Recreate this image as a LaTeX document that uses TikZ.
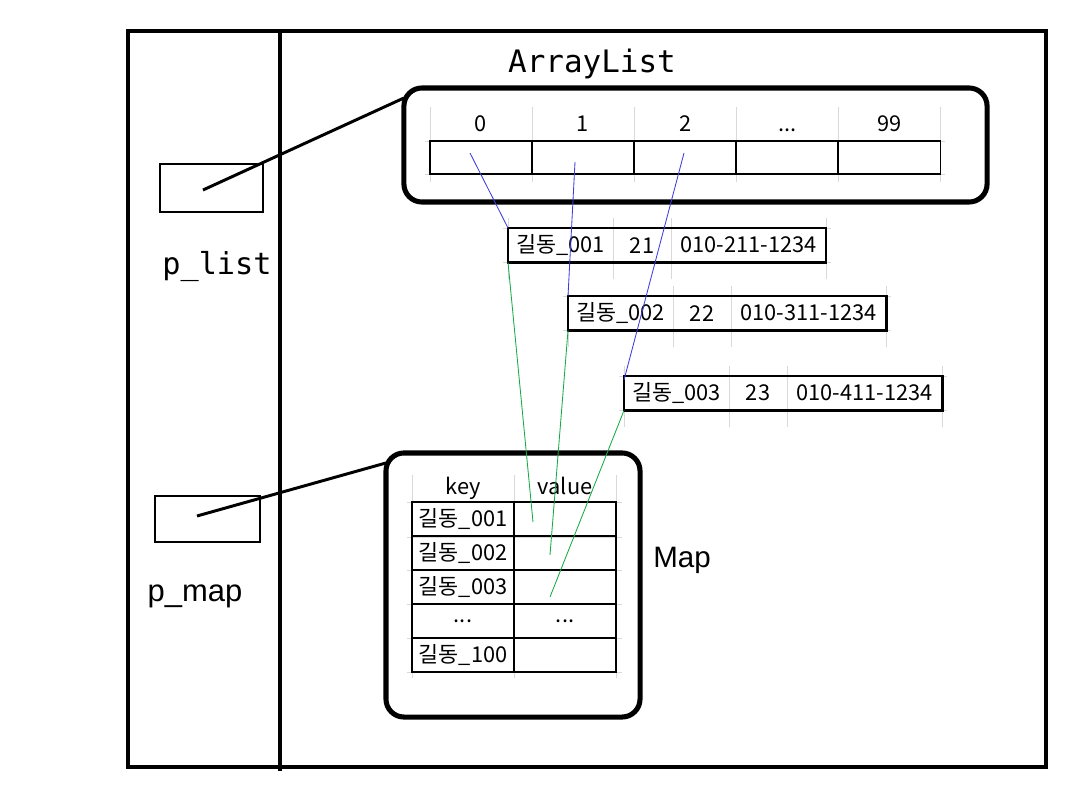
\documentclass[tikz,border=0pt]{standalone}
\usepackage{fontspec}
\setmainfont{Liberation Sans}
\newfontfamily\kr{Noto Sans CJK KR}
\newfontfamily\mono{DejaVu Sans Mono}
\usetikzlibrary{positioning}
\newcommand\tabfont{\kr\fontsize{15.5}{17}\selectfont}
\newcommand\etc{...}
\definecolor{linkblue}{RGB}{60,60,225}
\definecolor{linkgreen}{RGB}{20,170,70}

\begin{document}
\begin{tikzpicture}[x=0.025cm, y=-0.025cm, every node/.style={inner sep=0pt, outer sep=0pt},
  ptr/.style={draw, line width=2.1pt},
  frame/.style={draw, line width=3.6pt, rounded corners=0.45cm},
  cell/.style={draw, line width=0.9pt, minimum width=2.55cm, font=\tabfont},
  rec/.style={minimum height=0.86cm, font=\tabfont},
  lab/.style={font=\tabfont, anchor=base},
  grid/.style={black!15, line width=0.6pt},
  blink/.style={draw=linkblue, line width=0.6pt},
  glink/.style={draw=linkgreen, line width=0.6pt}]
\useasboundingbox (0,0) rectangle (1084,794);

% stack and heap
\draw[line width=2.2pt] (128,31) rectangle (1046,767);
\draw[line width=2.2pt] (280,31) -- (280,771);

% variables
\node[ptr, minimum width=2.575cm, minimum height=1.2cm] (plist) at (211.5,188) {};
\node[font=\mono\fontsize{21.5}{24}\selectfont, anchor=base] (plistlab) at (217,274) {p\_list};
\node[ptr, minimum width=2.625cm, minimum height=1.15cm] (pmap) at (207.5,519) {};
\node[font=\fontsize{22}{24}\selectfont, anchor=base] (pmaplab) at (195,601) {p\_map};

% ArrayList
\node[frame, minimum width=14.575cm, minimum height=2.85cm] (alist) at (695.5,145) {};
\node[font=\mono\fontsize{22}{24}\selectfont, anchor=base] (alistlab) at (592,73) {ArrayList};
\foreach \x in {430,532,...,940} \draw[grid] (\x,107) -- (\x,182);
\draw[grid] (425,141) -- (945,141) (425,174) -- (945,174);
\node[cell, minimum height=0.825cm, anchor=north west] (c0) at (430,141) {};
\foreach \i [count=\j from 0] in {1,...,4} \node[cell, minimum height=0.825cm, right=0pt of c\j] (c\i) {};
\foreach \i/\t in {0/0,1/1,2/2,3/\etc,4/99} \node[lab] (h\i) at ([yshift=0.23cm]c\i.north) {\t};

% records
\foreach \r/\x/\y/\n/\a/\p in {1/508/228/001/21/211,2/568/296/002/22/311,3/624/376/003/23/411} {
  \draw[grid] (\x-5,\y) -- (\x+323,\y) (\x-5,\y+34) -- (\x+323,\y+34);
  \foreach \d in {0,105,163,318} \draw[grid] (\x+\d,\y-10) -- (\x+\d,\y+51);
  \node[rec, minimum width=2.625cm, anchor=north west] (r\r n) at (\x,\y) {길동\_\n};
  \node[rec, minimum width=1.45cm, right=0pt of r\r n] (r\r a) {\a};
  \node[rec, minimum width=3.875cm, right=0pt of r\r a] (r\r p) {010-\p-1234};
  \draw[line width=2pt] (r\r n.north west) rectangle (r\r p.south east);
}

% Map
\node[frame, minimum width=6.35cm, minimum height=6.6cm] (map) at (513,585) {};
\node[font=\fontsize{21}{24}\selectfont, anchor=base] (maplab) at (682,567) {Map};
\foreach \x in {412,514,616} \draw[grid] (\x,475) -- (\x,678);
\foreach \y in {502,537,570,604,638,672} \draw[grid] (407,\y) -- (622,\y);
\node[cell, minimum height=0.85cm, anchor=north west] (k1) at (412,502) {길동\_001};
\node[cell, minimum height=0.85cm, right=0pt of k1] (v1) {};
\foreach \i/\t [count=\j] in {2/길동\_002,3/길동\_003,4/\etc,5/길동\_100} {
  \node[cell, minimum height=0.85cm, below=0pt of k\j] (k\i) {\t};
  \node[cell, minimum height=0.85cm, right=0pt of k\i] (v\i) {};
}
\node[font=\tabfont] at (v4) {\etc};
\node[lab] (keylab) at ([yshift=0.2cm]k1.north) {key};
\node[lab] (vallab) at ([yshift=0.2cm]v1.north) {value};

% references
\coordinate (lp) at (203,190);
\coordinate (mp) at (197,516);
\draw[ptr] (lp) -- ([yshift=-0.25cm]alist.north west);
\draw[ptr] (mp) -- ([yshift=-0.25cm]map.north west);
\coordinate (e0) at (470,153);
\coordinate (e1) at (575,162);
\coordinate (e2) at (684,153);
\draw[blink] (e0) -- (r1n.north west);
\draw[blink] (e1) -- (r2n.north west);
\draw[blink] (e2) -- ([yshift=-0.1cm]r3n.north west);
\coordinate (m1) at (533,522);
\coordinate (m2) at (550,555);
\coordinate (m3) at (550,597);
\draw[glink] (r1n.south west) -- (m1);
\draw[glink] (r2n.south west) -- (m2);
\draw[glink] (r3n.south west) -- (m3);
\end{tikzpicture}
\end{document}
